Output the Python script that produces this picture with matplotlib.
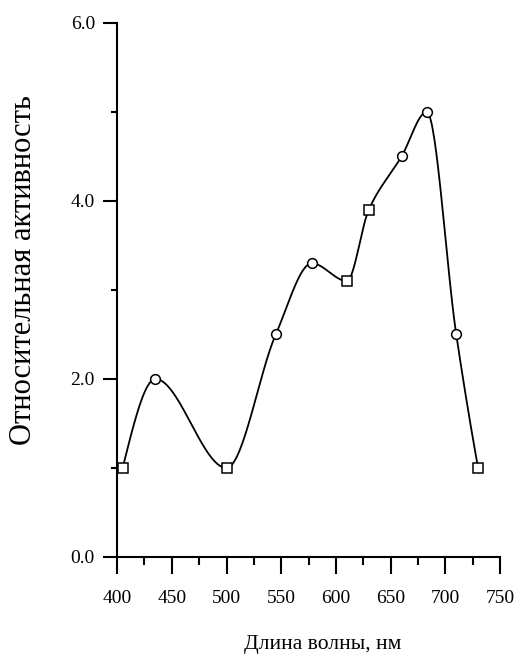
import numpy as np
import matplotlib
matplotlib.use("Agg")
import matplotlib.pyplot as plt

# wavelength (nm) and relative activity
wavelength = [405, 435, 500, 545, 578, 610, 630, 660, 683, 710, 730]
activity = [1.0, 2.0, 1.0, 2.5, 3.3, 3.1, 3.9, 4.5, 5.0, 2.5, 1.0]
marker_kind = ['s', 'o', 's', 'o', 'o', 's', 's', 'o', 'o', 'o', 's']

x_ticks = [400, 450, 500, 550, 600, 650, 700, 750]
y_ticks = [0.0, 2.0, 4.0, 6.0]


def pchip(x, y, n=400):
    # monotone piecewise cubic through the points (Fritsch-Carlson)
    x = np.asarray(x, float)
    y = np.asarray(y, float)
    h = np.diff(x)
    d = np.diff(y) / h
    m = np.zeros_like(y)
    for i in range(1, len(x) - 1):
        if d[i - 1] * d[i] > 0:
            w1 = 2 * h[i] + h[i - 1]
            w2 = h[i] + 2 * h[i - 1]
            m[i] = (w1 + w2) / (w1 / d[i - 1] + w2 / d[i])
    m[0] = ((2 * h[0] + h[1]) * d[0] - h[0] * d[1]) / (h[0] + h[1])
    m[-1] = ((2 * h[-1] + h[-2]) * d[-1] - h[-1] * d[-2]) / (h[-1] + h[-2])
    xs = np.linspace(x[0], x[-1], n)
    idx = np.clip(np.searchsorted(x, xs) - 1, 0, len(x) - 2)
    t = (xs - x[idx]) / h[idx]
    h00 = 2 * t ** 3 - 3 * t ** 2 + 1
    h10 = t ** 3 - 2 * t ** 2 + t
    h01 = -2 * t ** 3 + 3 * t ** 2
    h11 = t ** 3 - t ** 2
    ys = (h00 * y[idx] + h10 * h[idx] * m[idx]
          + h01 * y[idx + 1] + h11 * h[idx] * m[idx + 1])
    return xs, ys


plt.rcParams['font.family'] = ['Liberation Serif', 'DejaVu Serif']

fig = plt.figure(figsize=(5.16, 6.56), dpi=100)
ax = fig.add_axes([0.227, 0.151, 0.742, 0.814])

cx, cy = pchip(wavelength, activity)
ax.plot(cx, cy, color='black', lw=1.3)
for xv, yv, mk in zip(wavelength, activity, marker_kind):
    ax.plot(xv, yv, marker=mk, ms=7, mfc='white', mec='black', mew=1.1,
            linestyle='none')

ax.set_xlim(400, 750)
ax.set_ylim(0, 6)
ax.set_xticks(x_ticks)
ax.set_xticks(np.arange(425, 750, 50), minor=True)
ax.set_yticks(y_ticks)
ax.set_yticklabels(['%.1f' % v for v in y_ticks])
ax.set_yticks([1, 3, 5], minor=True)

for s in ['top', 'right']:
    ax.spines[s].set_visible(False)
for s in ['left', 'bottom']:
    ax.spines[s].set_linewidth(1.5)

ax.tick_params(axis='x', which='major', length=12, width=1.5, direction='out', labelsize=14, pad=12)
ax.tick_params(axis='x', which='minor', length=6, width=1.5, direction='out')
ax.tick_params(axis='y', which='major', length=10, width=1.5, direction='out', labelsize=14, pad=6)
ax.tick_params(axis='y', which='minor', length=4, width=1.5, direction='out')

fig.text(24 / 516, 1 - 270 / 656, 'Относительная активность', rotation=90,
         ha='center', va='center', fontsize=22)
fig.text(323 / 516, 1 - 644 / 656, 'Длина волны, нм', ha='center', va='center',
         fontsize=15.5)

fig.savefig('out.png', dpi=100, facecolor='white')
